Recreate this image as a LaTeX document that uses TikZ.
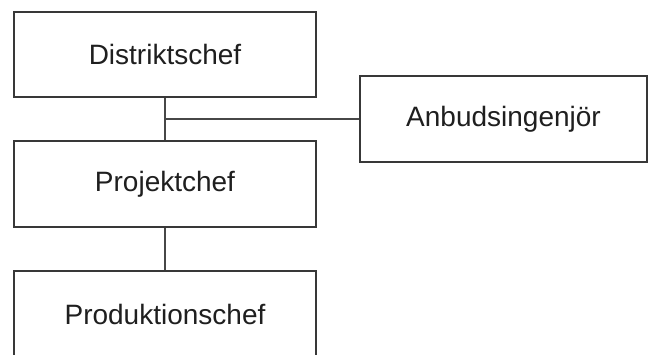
\documentclass[tikz,border=0pt]{standalone}
\usepackage{fontspec}
\setmainfont{Liberation Sans}
\begin{document}
\begin{tikzpicture}[x=1pt,y=-1pt,
  box/.style={draw=black!78, line width=2.4pt, fill=white, minimum width=302pt, minimum height=86pt, inner sep=0pt, font=\fontsize{28}{32}\selectfont, text=black!88},
  conn/.style={draw=black!72, line width=2.4pt}]
\useasboundingbox (0,0) rectangle (651,354);
\fill[white] (0,0) rectangle (651,354);
\node[box, minimum height=85pt] (d) at (165,54.5) {Distriktschef};
\node[box] (p) at (165,184) {Projektchef};
\node[box] (pr) at (165,314) {Produktionschef};
\node[box, minimum width=287pt] (a) at (503.5,119) {Anbudsingenjör};
\coordinate (j) at (d.south |- a.west);
\draw[conn] (d.south) -- (p.north);
\draw[conn] (j) -- (a.west);
\draw[conn] (p.south) -- (pr.north);
\end{tikzpicture}
\end{document}
